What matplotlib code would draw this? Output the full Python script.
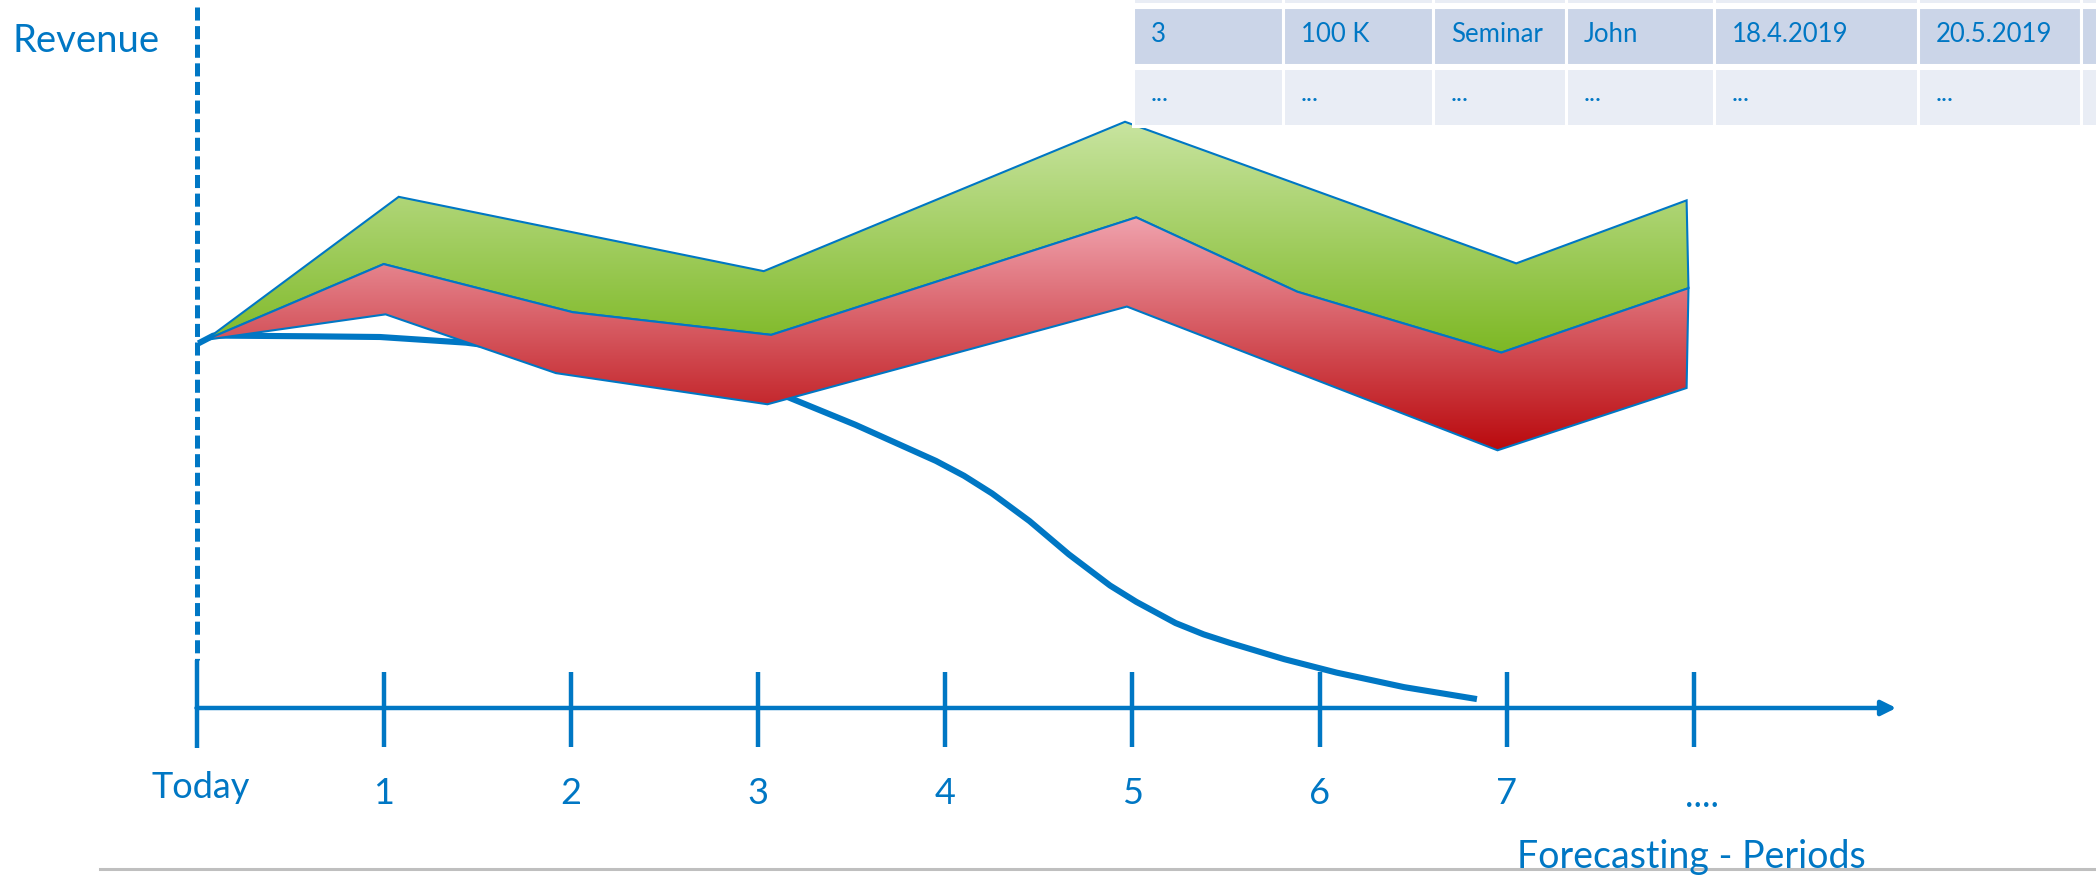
import numpy as np
import matplotlib
matplotlib.use("Agg")
import matplotlib.pyplot as plt
from matplotlib.patches import Polygon, Rectangle
from matplotlib.colors import LinearSegmentedColormap
from matplotlib.transforms import Affine2D, blended_transform_factory

W, H, DPI = 2096, 876, 100
BLUE = "#0077C4"

plt.rcParams["font.family"] = ["Lato", "DejaVu Sans"]
plt.rcParams["lines.scale_dashes"] = False

# ---------------- data ----------------
period_pos = [0, 1, 2, 3, 4, 5, 6, 7, 8]
period_labels = ["Today", "1", "2", "3", "4", "5", "6", "7", "...."]

# upper edge of the optimistic (green) band
best_x = [0.05, 1.08, 3.03, 4.96, 7.05, 7.96]
best_y = [52.0, 72.2, 61.7, 82.8, 62.8, 71.7]

# expected revenue: border between green and red band
expected_x = [0.05, 1.00, 2.01, 3.07, 5.02, 5.88, 6.97, 7.97]
expected_y = [52.0, 62.7, 55.9, 52.7, 69.3, 58.8, 50.2, 59.3]

# lower edge of the pessimistic (red) band
worst_x = [0.05, 1.01, 1.92, 3.05, 4.97, 6.95, 7.96]
worst_y = [52.0, 55.6, 47.3, 42.9, 56.7, 36.4, 45.2]

# revenue without new opportunities
decline_x = [0.01, 0.09, 0.62, 0.98, 1.44, 1.94, 2.58, 2.90, 3.16, 3.52,
             3.95, 4.10, 4.25, 4.45, 4.66, 4.88, 5.02, 5.23, 5.38, 5.52,
             5.81, 6.09, 6.45, 6.84]
decline_y = [51.5, 52.6, 52.5, 52.4, 51.6, 49.9, 47.5, 46.0, 43.9, 40.0,
             34.9, 32.8, 30.3, 26.4, 21.7, 17.3, 15.0, 12.0, 10.4, 9.2,
             6.9, 5.0, 2.95, 1.26]

# opportunity table
table_row = ["3", "100 K", "Seminar", "John", "18.4.2019", "20.5.2019", ""]
table_more = ["...", "...", "...", "...", "...", "...", ""]

AXIS_END = 9.08

# ---------------- figure ----------------
fig = plt.figure(figsize=(W / DPI, H / DPI), dpi=DPI)
ax = fig.add_axes([0, 0, 1, 1])
ax.axis("off")

# pixel transform (origin top-left) for layout elements
PX = Affine2D().scale(1.0 / W, -1.0 / H).translate(0, 1) + fig.transFigure
XDATA_YPX = blended_transform_factory(ax.transData, PX)


def gradient_band(xt, yt, xb, yb, c_top, c_bot, z):
    verts = list(zip(xt, yt)) + list(zip(xb[::-1], yb[::-1]))
    poly = Polygon(verts, closed=True, facecolor="none", edgecolor=BLUE,
                   lw=1.5, joinstyle="miter", zorder=z + 0.1)
    ax.add_patch(poly)
    xs = list(xt) + list(xb)
    ys = list(yt) + list(yb)
    cmap = LinearSegmentedColormap.from_list("band", [c_bot, c_top])
    grad = np.linspace(0, 1, 256).reshape(-1, 1)
    im = ax.imshow(grad, cmap=cmap, origin="lower", aspect="auto",
                   extent=[min(xs), max(xs), min(ys), max(ys)],
                   interpolation="bilinear", zorder=z)
    im.set_clip_path(poly)


# declining revenue curve (below the bands)
ax.plot(decline_x, decline_y, color=BLUE, lw=4.4, solid_capstyle="butt",
        solid_joinstyle="round", zorder=2)

gradient_band(best_x, best_y, expected_x, expected_y, "#C8E4A0", "#7DB824", 3)
gradient_band(expected_x, expected_y, worst_x, worst_y, "#F0A2AD", "#BA0A0E", 4)

ax.set_xlim(-1.0497, 10.147)
ax.set_ylim(-23.73, 100)

# time axis
ax.plot([0, 0], [99.0, 6.8], color=BLUE, lw=3.6, linestyle=(0, (9.4, 4.0)),
        dash_capstyle="butt", zorder=6)
ax.vlines(0, -5.6, 6.8, color=BLUE, lw=3.2, zorder=6)
ax.vlines(period_pos[1:], -5.5, 5.1, color=BLUE, lw=3.2, zorder=6)
ax.annotate("", xy=(AXIS_END, 0), xytext=(0, 0),
            arrowprops=dict(arrowstyle="-|>", color=BLUE, lw=3.2,
                            mutation_scale=22, shrinkA=0, shrinkB=0),
            zorder=6)

label_dx = [0.025, 0, 0, 0, 0, 0, 0, 0, 0.04]
label_base = [798, 804, 804, 804, 804, 804, 804, 804, 807]
for p, lab, dx, yb in zip(period_pos, period_labels, label_dx, label_base):
    ax.text(p + dx, yb, lab, transform=XDATA_YPX, ha="center", va="baseline",
            fontsize=26, color=BLUE, zorder=7)

ax.text(13, 52, "Revenue", transform=PX, ha="left", va="baseline",
        fontsize=27.5, color=BLUE, zorder=7)

# bottom rule and axis caption
ax.plot([100, W], [869, 869], transform=PX, color="#BFBFBF", lw=2.2, zorder=6)
ax.text(1517, 868, "Forecasting - Periods", transform=PX, ha="left",
        va="baseline", fontsize=27, color=BLUE, zorder=7)

# opportunity table
col_edges = [1133, 1283, 1433, 1566, 1714, 1918, 2081, 2240]
rows = [(-60, 4, "#E9EDF5", None),
        (7, 65, "#CBD5E8", table_row),
        (68, 126, "#E9EDF5", table_more)]
for top, bot, face, values in rows:
    for i in range(len(col_edges) - 1):
        x0, x1 = col_edges[i], col_edges[i + 1]
        ax.add_patch(Rectangle((x0, top), x1 - x0, bot - top, transform=PX,
                               facecolor=face, edgecolor="white", lw=2.2,
                               zorder=8, clip_on=False))
        if values is not None and values[i]:
            base = 42 if values is table_row else 101
            ax.text(x0 + 18, base, values[i], transform=PX, ha="left",
                    va="baseline", fontsize=18.5, color=BLUE, zorder=9)

fig.savefig("out.png", dpi=DPI)
